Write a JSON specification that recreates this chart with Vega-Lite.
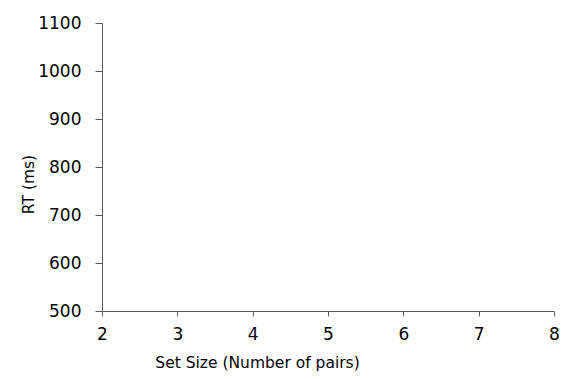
{
  "$schema": "https://vega.github.io/schema/vega-lite/v6.json",
  "width": 452,
  "height": 288,
  "autosize": {"type": "none"},
  "padding": {"left": 102, "top": 23, "right": 21, "bottom": 68},
  "background": "white",
  "config": {
    "view": {"stroke": null},
    "font": "DejaVu Sans",
    "axis": {
      "grid": false,
      "domainColor": "#595959",
      "tickColor": "#595959",
      "labelColor": "#000000",
      "titleColor": "#000000",
      "labelFont": "DejaVu Sans",
      "titleFont": "DejaVu Sans",
      "labelFontSize": 17,
      "titleFontSize": 15.5,
      "titleFontWeight": "normal",
      "labelFlush": false,
      "labelOverlap": false
    }
  },
  "data": {"values": []},
  "mark": {"type": "point"},
  "encoding": {
    "x": {
      "field": "setSize",
      "type": "quantitative",
      "scale": {"domain": [2, 8], "nice": false, "zero": false},
      "axis": {"values": [2, 3, 4, 5, 6, 7, 8], "format": "d", "title": "Set Size (Number of pairs)", "tickSize": 5, "labelPadding": 10, "titleX": 155, "titleY": 51, "titleAlign": "center", "titleBaseline": "middle"}
    },
    "y": {
      "field": "rt",
      "type": "quantitative",
      "scale": {"domain": [500, 1100], "nice": false, "zero": false},
      "axis": {"values": [500, 600, 700, 800, 900, 1000, 1100], "format": "d", "title": "RT (ms)", "tickSize": 7, "labelPadding": 14, "titleX": -74, "titleY": 161, "titleAngle": -90, "titleAlign": "center", "titleBaseline": "middle"}
    }
  }
}
